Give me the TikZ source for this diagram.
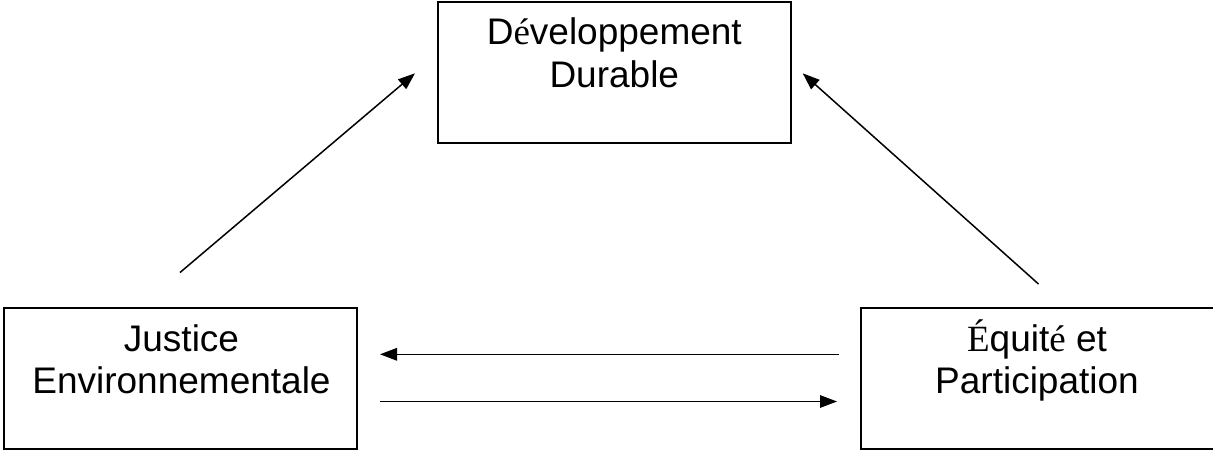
\documentclass[tikz,border=0pt]{standalone}
\usepackage{fontspec}
\setmainfont{Liberation Sans}
\newfontfamily\serifacc{Liberation Serif}
\usetikzlibrary{arrows.meta}
\tikzset{
  box/.style={draw=black, line width=2pt, inner sep=0pt},
  lbl/.style={anchor=base, inner sep=0pt, font=\fontsize{37}{43}\selectfont},
  conn/.style={line width=1.5pt, -{Triangle[length=17pt, width=12.5pt]}},
}
\begin{document}
\begin{tikzpicture}[x=1pt, y=-1pt]
\useasboundingbox (0,0) rectangle (1213,450);
% boxes
\node[box, minimum width=353.3pt, minimum height=141.3pt] (dd) at (614.3,72.4) {};
\node[box, minimum width=352.7pt, minimum height=141.5pt] (je) at (180.3,378.3) {};
\node[box, minimum width=353.3pt, minimum height=141.5pt] (ep) at (1037.3,378.3) {};
% labels
\node[lbl] (dd1) at (614.3,44.5) {D{\serifacc é}veloppement};
\node[lbl] (dd2) at (614.3,87.8) {Durable};
\node[lbl] (je1) at (181.5,351) {Justice};
\node[lbl] (je2) at (181.5,393.3) {Environnementale};
\node[lbl] (ep1) at (1037,351) {{\serifacc É}quit{\serifacc é} et};
\node[lbl] (ep2) at (1037,393.3) {Participation};
% connector ends
\coordinate (a1s) at (180,272.5);
\coordinate (a1e) at (415,73.3);
\coordinate (a2s) at (1038.5,284);
\coordinate (a2e) at (802.7,73.3);
\coordinate (a3s) at (838.5,354.3);
\coordinate (a3e) at (380,354.3);
\coordinate (a4s) at (380,401.5);
\coordinate (a4e) at (837,401.5);
\draw[conn] (a1s) -- (a1e);
\draw[conn] (a2s) -- (a2e);
\draw[conn] (a3s) -- (a3e);
\draw[conn] (a4s) -- (a4e);
\end{tikzpicture}
\end{document}
